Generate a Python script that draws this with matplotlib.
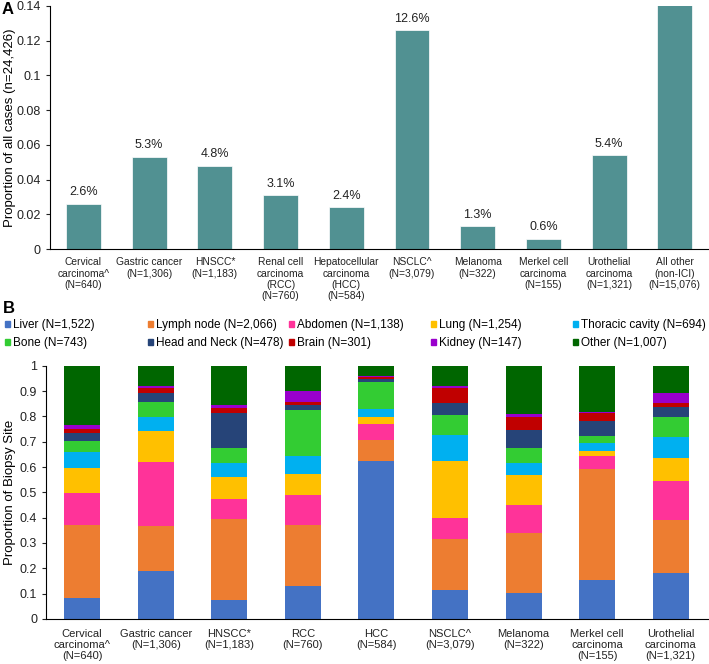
import matplotlib.pyplot as plt
from matplotlib.patches import Patch

plt.rcParams['font.family'] = ['Liberation Sans', 'DejaVu Sans']

# panel A
cancers_a = ['Cervical\ncarcinoma^\n(N=640)', 'Gastric cancer\n(N=1,306)', 'HNSCC*\n(N=1,183)',
             'Renal cell\ncarcinoma\n(RCC)\n(N=760)', 'Hepatocellular\ncarcinoma\n(HCC)\n(N=584)',
             'NSCLC^\n(N=3,079)', 'Melanoma\n(N=322)', 'Merkel cell\ncarcinoma\n(N=155)',
             'Urothelial\ncarcinoma\n(N=1,321)', 'All other\n(non-ICI)\n(N=15,076)']
prop_all = [0.026, 0.053, 0.048, 0.031, 0.024, 0.126, 0.013, 0.006, 0.054, 0.617]
pct_labels = ['2.6%', '5.3%', '4.8%', '3.1%', '2.4%', '12.6%', '1.3%', '0.6%', '5.4%', '']

# panel B
cancers_b = ['Cervical\ncarcinoma^\n(N=640)', 'Gastric cancer\n(N=1,306)', 'HNSCC*\n(N=1,183)',
             'RCC\n(N=760)', 'HCC\n(N=584)', 'NSCLC^\n(N=3,079)', 'Melanoma\n(N=322)',
             'Merkel cell\ncarcinoma\n(N=155)', 'Urothelial\ncarcinoma\n(N=1,321)']
sites = ['Liver (N=1,522)', 'Lymph node (N=2,066)', 'Abdomen (N=1,138)', 'Lung (N=1,254)',
         'Thoracic cavity (N=694)', 'Bone (N=743)', 'Head and Neck (N=478)', 'Brain (N=301)',
         'Kidney (N=147)', 'Other (N=1,007)']
site_colors = ['#4472C4', '#ED7D31', '#FF3399', '#FFC000', '#00B0F0',
               '#33CC33', '#264478', '#C00000', '#9900CC', '#006600']

# cumulative tops per cancer (Liver, Lymph, Abdomen, Lung, Thoracic, Bone, H&N, Brain, Kidney), Other fills to 1
cum_tops = [
    [0.082, 0.369, 0.499, 0.596, 0.660, 0.703, 0.735, 0.751, 0.765],
    [0.189, 0.367, 0.619, 0.744, 0.796, 0.858, 0.891, 0.913, 0.922],
    [0.075, 0.393, 0.474, 0.559, 0.615, 0.675, 0.813, 0.832, 0.844],
    [0.129, 0.372, 0.491, 0.573, 0.645, 0.827, 0.847, 0.856, 0.900],
    [0.623, 0.708, 0.770, 0.799, 0.828, 0.938, 0.949, 0.955, 0.958],
    [0.113, 0.314, 0.400, 0.623, 0.727, 0.806, 0.852, 0.914, 0.922],
    [0.102, 0.340, 0.450, 0.569, 0.616, 0.677, 0.748, 0.796, 0.811],
    [0.152, 0.594, 0.642, 0.664, 0.695, 0.722, 0.781, 0.813, 0.819],
    [0.182, 0.392, 0.546, 0.637, 0.719, 0.796, 0.836, 0.855, 0.891],
]

fig = plt.figure(figsize=(7.09, 6.64), dpi=100)

# ---- A ----
ax1 = fig.add_axes([0.0705, 0.625, 0.9295, 0.366])
x1 = range(len(cancers_a))
bars = ax1.bar(x1, prop_all, width=0.53, color='#519192', edgecolor='white', linewidth=0.5)
for b, lab in zip(bars, pct_labels):
    if lab:
        ax1.annotate(lab, (b.get_x() + b.get_width() / 2, b.get_height()),
                     xytext=(0, 4), textcoords='offset points', ha='center', va='bottom',
                     fontsize=9, color='#222222')
ax1.set_ylim(0, 0.14)
ax1.set_xlim(-0.51, 9.52)
ax1.set_yticks([0, 0.02, 0.04, 0.06, 0.08, 0.1, 0.12, 0.14])
ax1.set_yticklabels(['0', '0.02', '0.04', '0.06', '0.08', '0.1', '0.12', '0.14'])
ax1.set_xticks(list(x1))
ax1.set_xticklabels(cancers_a, fontsize=7.4, color='#222222', linespacing=1.15)
ax1.tick_params(axis='x', length=0, pad=6)
ax1.tick_params(axis='y', labelsize=9, length=3, colors='#222222')
ax1.set_ylabel('Proportion of all cases (n=24,426)', fontsize=9.5)
ax1.yaxis.set_label_coords(-0.051, 0.5)
ax1.spines['top'].set_visible(False)
ax1.spines['right'].set_visible(False)
fig.text(0.002, 0.985, 'A', fontsize=12, fontweight='bold', va='center')

# ---- B ----
ax2 = fig.add_axes([0.065, 0.068, 0.935, 0.381])
x2 = list(range(len(cancers_b)))
prev = [0.0] * len(cancers_b)
for k in range(len(sites)):
    if k < len(sites) - 1:
        tops = [row[k] for row in cum_tops]
    else:
        tops = [1.0] * len(cancers_b)
    heights = [t - p for t, p in zip(tops, prev)]
    ax2.bar(x2, heights, bottom=prev, width=0.49, color=site_colors[k], linewidth=0)
    prev = tops
ax2.set_ylim(0, 1)
ax2.set_xlim(-0.49, 8.52)
ax2.set_yticks([i / 10 for i in range(11)])
ax2.set_yticklabels(['0', '0.1', '0.2', '0.3', '0.4', '0.5', '0.6', '0.7', '0.8', '0.9', '1'])
ax2.set_xticks(x2)
ax2.set_xticklabels(cancers_b, fontsize=8, color='#222222', linespacing=1.15)
ax2.tick_params(axis='x', length=0, pad=7)
ax2.tick_params(axis='y', labelsize=9, length=3, colors='#222222')
ax2.set_ylabel('Proportion of Biopsy Site', fontsize=9.5)
ax2.yaxis.set_label_coords(-0.045, 0.5)
ax2.spines['top'].set_visible(False)
ax2.spines['right'].set_visible(False)
fig.text(0.004, 0.536, 'B', fontsize=12, fontweight='bold', va='center')

# legend: five columns at fixed spacing, two rows each
col_x = [5, 148, 289, 431, 573]
for c in range(5):
    hs = [Patch(color=site_colors[c], label=sites[c]),
          Patch(color=site_colors[c + 5], label=sites[c + 5])]
    fig.legend(handles=hs, loc='upper left', bbox_to_anchor=(col_x[c] / 709, 1 - 319 / 664),
               frameon=False, fontsize=8.5, handlelength=0.45, handleheight=0.45,
               handletextpad=0.2, labelspacing=0.5, borderpad=0, borderaxespad=0)

fig.savefig('out.png', dpi=100)
